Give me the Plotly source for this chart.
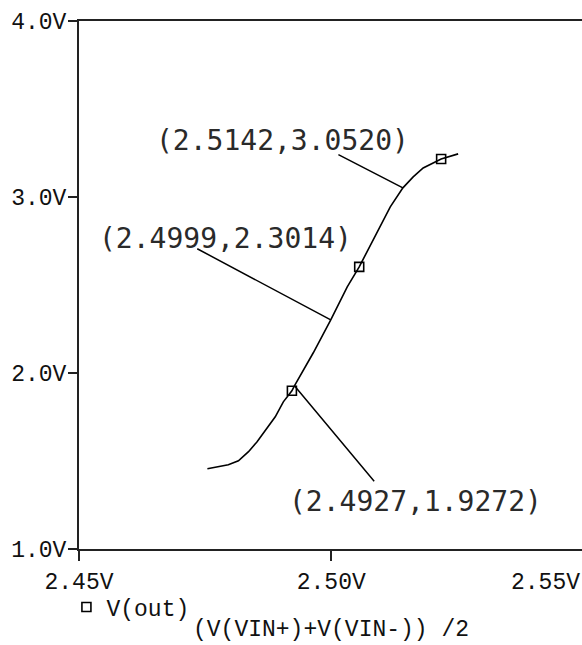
import plotly.graph_objects as go

# V(out) swept against the common-mode input (V(VIN+)+V(VIN-))/2
vin_cm = [2.47545, 2.4796, 2.4816, 2.4836, 2.4853, 2.4873, 2.4889, 2.4905,
          2.4922, 2.4927, 2.49644, 2.4999, 2.50317, 2.50554, 2.50733,
          2.5093, 2.5117, 2.5142, 2.51624, 2.51822, 2.5202, 2.52178, 2.52515]
v_out = [1.456, 1.479, 1.501, 1.553, 1.609, 1.689, 1.751, 1.836,
         1.899, 1.9272, 2.115, 2.3014, 2.4895, 2.603, 2.700,
         2.813, 2.944, 3.0520, 3.114, 3.165, 3.194, 3.216, 3.245]

# trace symbol positions (every few samples)
marker_x = [2.4922, 2.50554, 2.52178]
marker_y = [1.899, 2.603, 3.216]

# cursor read-outs
cursor_x = [2.5142, 2.4999, 2.4927]
cursor_y = [3.0520, 2.3014, 1.9272]
cursor_labels = ["(2.5142,3.0520)", "(2.4999,2.3014)", "(2.4927,1.9272)"]

x_ticks = [2.45, 2.50]
x_tick_text = ["2.45V", "2.50V"]
y_ticks = [1.0, 2.0, 3.0, 4.0]
y_tick_text = ["1.0V", "2.0V", "3.0V", "4.0V"]

AXIS_FONT = dict(family="Liberation Mono", size=23, color="#111111")
CURSOR_FONT = dict(family="DejaVu Sans Mono", size=28, color="#2a2a2a")

fig = go.Figure()
fig.add_trace(go.Scatter(
    x=vin_cm, y=v_out, mode="lines",
    line=dict(color="black", width=1.6),
    showlegend=False, hoverinfo="skip",
))
fig.add_trace(go.Scatter(
    x=marker_x, y=marker_y, mode="markers", name="V(out)",
    marker=dict(symbol="square-open", size=9, color="black",
                line=dict(width=1.6, color="black")),
    showlegend=True,
))

# leader lines (pixel offsets to the line tails) and label offsets
leader_offsets = [(-66, -34), (-135, -72), (81, 97)]
label_shifts = [(-120, 47), (-105, 81), (121, -116)]

annotations = []
for cx, cy, lab, (ax, ay), (sx, sy) in zip(cursor_x, cursor_y, cursor_labels,
                                           leader_offsets, label_shifts):
    annotations.append(dict(
        x=cx, y=cy, xref="x", yref="y", text="", showarrow=True,
        arrowhead=0, arrowwidth=1.5, arrowcolor="black",
        ax=ax, ay=ay, standoff=0, startstandoff=0,
    ))
    annotations.append(dict(
        x=cx, y=cy, xref="x", yref="y", text=lab, showarrow=False,
        xshift=sx, yshift=sy, font=CURSOR_FONT,
    ))

# right-most tick label, pulled inside the window
annotations.append(dict(
    x=1.0, y=0, xref="paper", yref="paper", text="2.55V", showarrow=False,
    xanchor="right", yanchor="top", yshift=-19, font=AXIS_FONT,
))
# x-axis title
annotations.append(dict(
    x=0.5, y=0, xref="paper", yref="paper", text="(V(VIN+)+V(VIN-)) /2",
    showarrow=False, xanchor="center", yanchor="middle", yshift=-81,
    font=AXIS_FONT,
))

fig.update_layout(
    width=582, height=645,
    margin=dict(l=79, r=0, t=21, b=96),
    paper_bgcolor="white", plot_bgcolor="white",
    annotations=annotations,
    legend=dict(
        x=-0.025, y=-0.11, xanchor="left", yanchor="middle",
        font=AXIS_FONT, bgcolor="rgba(0,0,0,0)",
    ),
    xaxis=dict(
        range=[2.45, 2.5497], tickvals=x_ticks, ticktext=x_tick_text,
        showgrid=False, zeroline=False, showline=True, linewidth=2,
        linecolor="#222222", mirror=True, ticks="outside", ticklen=10,
        tickwidth=2, tickcolor="#222222", tickfont=AXIS_FONT,
    ),
    yaxis=dict(
        range=[1.0, 4.0], tickvals=y_ticks, ticktext=y_tick_text,
        showgrid=False, zeroline=False, showline=True, linewidth=2,
        linecolor="#222222", ticks="outside", ticklen=9, tickwidth=2,
        tickcolor="#222222", tickfont=AXIS_FONT, ticklabelstandoff=-3,
    ),
)

fig.write_html("out.html")
